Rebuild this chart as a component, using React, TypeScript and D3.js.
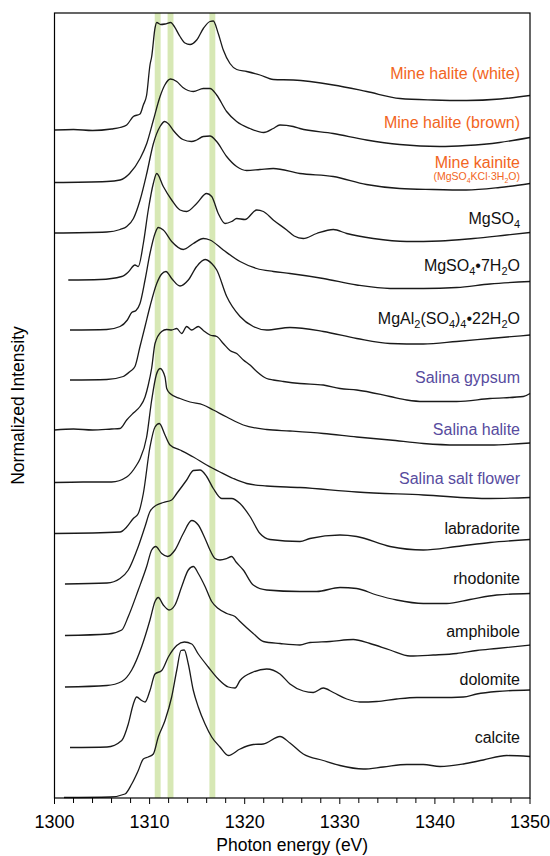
import React from 'react';
import * as d3 from 'd3';

// photon energy window and stacked intensity window (arb. units)
const energyDomain = [1300, 1350];
const intensityDomain = [0, 15.7];

// highlighted Mg K-edge features (eV)
const bandCenters = [1310.85, 1312.2, 1316.6];
const bandWidth = 0.62;

const sampleLabels = [
    'Mine halite (white)',
    'Mine halite (brown)',
    'Mine kainite',
    'MgSO{4}',
    'MgSO{4}\u20227H{2}O',
    'MgAl{2}(SO{4}){4}\u202222H{2}O',
    'Salina gypsum',
    'Salina halite',
    'Salina salt flower',
    'labradorite',
    'rhodonite',
    'amphibole',
    'dolomite',
    'calcite'
];
const sampleGroups = ['mine', 'mine', 'mine', 'ref', 'ref', 'ref', 'salina', 'salina', 'salina', 'ref', 'ref', 'ref', 'ref', 'ref'];
const kainiteFormula = '(MgSO{4}KCl\u00b73H{2}O)';

// vertical offset of each spectrum and where its label sits
const spectrumOffsets = [13.36, 12.31, 11.30, 10.36, 9.36, 8.36, 7.36, 6.31, 5.29, 4.28, 3.25, 2.22, 1.01, 0.01];
const labelLevels = [14.38, 13.40, 12.60, 11.48, 10.54, 9.48, 8.30, 7.26, 6.28, 5.28, 4.28, 3.22, 2.26, 1.10];
const formulaLevel = 12.36;

const mineHaliteWhite = [
    [1300, 0], [1302, 0.01], [1304, -0.01], [1306, 0.02], [1306.89, 0.05], [1307.59, 0.10], [1308.29, 0.27],
    [1308.99, 0.32], [1309.34, 0.50], [1309.69, 0.70], [1310.04, 1.30], [1310.22, 1.47], [1310.57, 2.04],
    [1310.75, 2.15], [1311.17, 2.11], [1311.62, 2.12], [1312.22, 2.15], [1312.49, 2.10], [1313.2, 1.87],
    [1313.72, 1.74], [1314.25, 1.71], [1314.95, 1.80], [1315.65, 2.03], [1316.35, 2.17], [1316.7, 2.18],
    [1317.22, 1.93], [1317.75, 1.60], [1318.45, 1.33], [1319.16, 1.21], [1320.21, 1.17], [1321.61, 1.10],
    [1323.01, 1.01], [1325.11, 1.00], [1329.32, 0.90], [1332.83, 0.77], [1336.33, 0.63], [1339.83, 0.60],
    [1343.34, 0.59], [1346.85, 0.62], [1350, 0.69]
];
const mineHaliteBrown = [
    [1300, 0], [1305.5, 0.02], [1306.9, 0.05], [1307.9, 0.18], [1309.0, 0.48], [1309.7, 0.78], [1310.4, 1.25],
    [1311.1, 1.72], [1311.6, 1.95], [1312.2, 2.07], [1312.85, 2.02], [1313.5, 1.90], [1314.6, 1.82],
    [1315.65, 1.88], [1316.35, 1.88], [1317.05, 1.75], [1318.1, 1.42], [1319.15, 1.22], [1320.55, 1.08],
    [1322.0, 1.00], [1323.0, 1.08], [1323.7, 1.15], [1325.1, 1.12], [1325.8, 1.08], [1329.3, 0.98],
    [1332.8, 0.85], [1336.3, 0.76], [1340.5, 0.72], [1343.3, 0.74], [1346.8, 0.80], [1350, 0.90]
];
const mineKainite = [
    [1300, 0], [1305.5, 0.02], [1306.9, 0.07], [1307.6, 0.13], [1308.3, 0.29], [1309, 0.66], [1309.7, 1.19],
    [1310.4, 1.79], [1311.1, 2.13], [1311.6, 2.23], [1312, 2.18], [1312.5, 2.05], [1313.5, 1.87], [1314.4, 1.83],
    [1314.95, 1.86], [1315.65, 1.93], [1316.35, 1.94], [1317.05, 1.83], [1318.1, 1.53], [1319.15, 1.33],
    [1320.2, 1.25], [1321.6, 1.27], [1323, 1.29], [1325.8, 1.19], [1329.3, 1.13], [1332.8, 0.97],
    [1336.3, 0.89], [1339.8, 0.87], [1343.3, 0.86], [1346.8, 0.91], [1350, 0.99]
];
const mgso4 = [
    [1301.45, 0], [1304.78, 0.01], [1307.07, 0.07], [1307.76, 0.16], [1308.46, 0.30], [1308.81, 0.27],
    [1309.34, 0.73], [1309.86, 1.40], [1310.39, 1.93], [1310.75, 2.13], [1311.44, 1.87], [1312.32, 1.60],
    [1313.2, 1.40], [1313.9, 1.37], [1314.95, 1.53], [1316.0, 1.73], [1316.53, 1.67], [1317.22, 1.33],
    [1317.93, 1.13], [1318.63, 1.17], [1319.16, 1.23], [1320.03, 1.21], [1321.26, 1.40], [1321.96, 1.37],
    [1323.0, 1.20], [1324.42, 1.00], [1325.2, 0.88], [1326.16, 0.83], [1327.57, 0.93], [1329.32, 1.01],
    [1330.73, 0.93], [1333.52, 0.83], [1337.04, 0.77], [1340.54, 0.78], [1344.04, 0.83], [1347.55, 0.90],
    [1350, 0.95]
];
const mgso4Hepta = [
    [1301.63, 0], [1305.49, 0.01], [1306.89, 0.07], [1307.66, 0.20], [1308.12, 0.35], [1308.57, 0.39],
    [1308.99, 0.53], [1309.52, 1.00], [1310.04, 1.53], [1310.57, 1.93], [1310.91, 2.05], [1311.44, 2.00],
    [1312.32, 1.77], [1313.54, 1.61], [1314.6, 1.73], [1315.65, 1.83], [1316.35, 1.80], [1317.75, 1.60],
    [1319.51, 1.37], [1321.26, 1.23], [1323.01, 1.17], [1324.76, 1.13], [1328.26, 1.03], [1331.78, 0.90],
    [1335.28, 0.83], [1338.78, 0.83], [1342.29, 0.85], [1345.79, 0.92], [1350, 0.97]
];
const mgAlSulfate = [
    [1301.63, 0], [1305.49, 0.01], [1307.23, 0.07], [1307.94, 0.17], [1308.46, 0.27], [1308.99, 0.67],
    [1309.52, 1.07], [1310.04, 1.47], [1310.75, 1.93], [1311.27, 2.12], [1311.72, 2.17], [1312.32, 2.03],
    [1313.2, 1.88], [1314.07, 2.00], [1314.95, 2.27], [1315.83, 2.41], [1316.53, 2.33], [1317.06, 2.20],
    [1318.11, 1.67], [1319.51, 1.27], [1320.9, 1.07], [1322.31, 1.00], [1324.76, 1.05], [1328.26, 0.97],
    [1331.78, 0.83], [1335.28, 0.73], [1338.78, 0.72], [1342.29, 0.77], [1345.79, 0.83], [1350, 0.90]
];
const salinaGypsum = [
    [1300, 0], [1302, 0.02], [1304, 0.00], [1306, 0.02], [1306.89, 0.03], [1307.59, 0.20], [1308.29, 0.34],
    [1308.99, 0.47], [1309.52, 0.66], [1309.86, 0.90], [1310.22, 1.24], [1310.57, 1.73], [1311.27, 1.97],
    [1311.79, 2.01], [1312.32, 2.00], [1312.85, 2.03], [1313.37, 1.93], [1313.9, 2.07], [1314.42, 2.00],
    [1315.12, 2.07], [1315.65, 1.99], [1316.35, 1.90], [1317.06, 1.87], [1317.75, 1.73], [1318.45, 1.59],
    [1319.16, 1.53], [1319.86, 1.40], [1320.56, 1.30], [1321.26, 1.17], [1322.31, 1.03], [1323.01, 1.00],
    [1324.06, 0.97], [1325.81, 0.93], [1328.26, 0.90], [1330.02, 0.83], [1331.78, 0.80], [1335.28, 0.67],
    [1337.04, 0.60], [1338.78, 0.57], [1342.29, 0.57], [1345.79, 0.63], [1349.3, 0.67], [1350, 0.73]
];
const salinaHalite = [
    [1300, 0], [1303, 0.01], [1306, 0.01], [1307.59, 0.11], [1308.64, 0.35], [1308.99, 0.47], [1309.69, 0.91],
    [1310.22, 1.65], [1310.7, 2.15], [1311.1, 2.28], [1311.62, 2.11], [1311.8, 1.88], [1312.15, 1.78],
    [1313.2, 1.68], [1314.25, 1.61], [1315.65, 1.55], [1316.7, 1.45], [1318.11, 1.31], [1319.85, 1.15],
    [1322.31, 1.06], [1324.76, 1.03], [1328.26, 0.98], [1331.78, 0.91], [1335.28, 0.85], [1338.78, 0.78],
    [1342.29, 0.75], [1345.79, 0.75], [1350, 0.79]
];
const salinaSaltFlower = [
    [1300, 0], [1306.89, 0.03], [1307.59, 0.13], [1308.29, 0.30], [1308.81, 0.40], [1309.34, 0.80],
    [1310.04, 1.73], [1310.57, 2.13], [1311.02, 2.20], [1311.62, 1.97], [1312.15, 1.77], [1313.2, 1.67],
    [1314.6, 1.53], [1316.0, 1.37], [1317.4, 1.23], [1318.8, 1.10], [1320.21, 1.00], [1322.31, 0.95],
    [1325.81, 0.92], [1331.78, 0.83], [1338.78, 0.77], [1345.79, 0.70], [1350, 0.72]
];
const labradorite = [
    [1301.1, 0], [1305.52, 0.02], [1306.89, 0.11], [1307.76, 0.28], [1308.81, 0.75], [1309.52, 1.15],
    [1310.04, 1.45], [1310.75, 1.58], [1311.44, 1.63], [1312.32, 1.68], [1312.85, 1.81], [1313.9, 2.08],
    [1314.6, 2.27], [1315.3, 2.28], [1316.0, 2.15], [1316.7, 1.91], [1317.58, 1.71], [1318.63, 1.71],
    [1319.51, 1.61], [1320.56, 1.35], [1321.61, 1.01], [1322.66, 0.89], [1325.81, 0.85], [1326.86, 0.91],
    [1330.02, 0.98], [1331.78, 0.95], [1335.28, 0.75], [1338.78, 0.68], [1342.29, 0.75], [1345.79, 0.83],
    [1350, 0.89]
];
const rhodonite = [
    [1301.1, 0], [1305.66, 0.03], [1307.07, 0.11], [1307.76, 0.38], [1308.81, 0.91], [1309.69, 1.38],
    [1310.22, 1.71], [1310.64, 1.78], [1311.27, 1.64], [1311.9, 1.58], [1312.67, 1.71], [1313.54, 2.04],
    [1314.43, 2.30], [1315.12, 2.21], [1315.83, 1.94], [1316.35, 1.71], [1316.88, 1.54], [1317.4, 1.51],
    [1318.11, 1.54], [1318.63, 1.58], [1319.09, 1.47], [1319.85, 1.31], [1320.9, 1.01], [1322.31, 0.91],
    [1325.81, 0.88], [1327.57, 0.88], [1330.02, 0.96], [1331.78, 0.94], [1333.88, 0.81], [1335.98, 0.71],
    [1338.78, 0.64], [1341.24, 0.64], [1343.69, 0.72], [1346.5, 0.81], [1350, 0.84]
];
const amphibole = [
    [1301.1, 0], [1305.5, 0.03], [1307.07, 0.11], [1308.12, 0.34], [1309.17, 0.81], [1310.04, 1.34],
    [1310.57, 1.71], [1310.91, 1.79], [1311.44, 1.64], [1312.04, 1.54], [1312.67, 1.64], [1313.38, 2.01],
    [1314.07, 2.34], [1314.6, 2.41], [1315.12, 2.27], [1315.83, 2.01], [1316.53, 1.71], [1317.22, 1.57],
    [1318.11, 1.47], [1318.98, 1.41], [1319.51, 1.31], [1320.9, 1.07], [1321.96, 0.91], [1323.71, 0.87],
    [1325.81, 0.84], [1326.87, 0.89], [1328.97, 0.91], [1331.42, 0.95], [1333.18, 0.87], [1335.28, 0.74],
    [1337.38, 0.62], [1339.83, 0.64], [1342.29, 0.67], [1344.4, 0.73], [1346.5, 0.77], [1350, 0.84]
];
const dolomite = [
    [1301.63, 0], [1305.52, 0.01], [1307.07, 0.14], [1307.76, 0.47], [1308.29, 0.87], [1308.64, 1.01],
    [1309.17, 0.94], [1309.52, 0.91], [1310.04, 1.14], [1310.57, 1.47], [1311.27, 1.54], [1311.97, 1.81],
    [1312.85, 2.04], [1313.65, 2.11], [1314.43, 2.07], [1315.12, 1.87], [1316.17, 1.61], [1317.22, 1.37],
    [1318.28, 1.21], [1318.98, 1.19], [1319.51, 1.34], [1320.9, 1.51], [1322.31, 1.57], [1323.71, 1.47],
    [1324.76, 1.27], [1326.16, 1.13], [1327.21, 1.10], [1328.26, 1.19], [1329.32, 1.10], [1330.73, 0.97],
    [1332.12, 0.91], [1333.88, 0.92], [1335.98, 0.97], [1338.09, 1.00], [1340.54, 1.00], [1342.99, 1.01],
    [1344.4, 1.07], [1346.5, 1.12], [1350, 1.15]
];
const calcite = [
    [1301, 0], [1305.84, 0.01], [1307.41, 0.07], [1308.12, 0.27], [1308.81, 0.54], [1309.34, 0.77],
    [1309.86, 0.81], [1310.39, 0.87], [1310.91, 1.21], [1311.62, 1.54], [1312.32, 2.01], [1312.85, 2.54],
    [1313.3, 2.94], [1313.65, 2.95], [1314.07, 2.67], [1314.6, 2.14], [1315.12, 1.81], [1315.83, 1.47],
    [1316.53, 1.21], [1317.4, 1.01], [1318.28, 0.84], [1319.51, 0.97], [1320.9, 1.06], [1321.96, 1.07],
    [1323.71, 1.22], [1324.76, 1.09], [1326.16, 0.87], [1328.26, 0.74], [1330.02, 0.64], [1332.47, 0.57],
    [1334.57, 0.61], [1337.04, 0.66], [1338.78, 0.66], [1340.54, 0.62], [1342.99, 0.67], [1345.09, 0.75],
    [1347.55, 0.84], [1350, 0.82]
];

const spectra = [
    mineHaliteWhite, mineHaliteBrown, mineKainite, mgso4, mgso4Hepta, mgAlSulfate,
    salinaGypsum, salinaHalite, salinaSaltFlower, labradorite, rhodonite, amphibole, dolomite, calcite
];

const groupColor = {mine: '#f26522', salina: '#574b9e', ref: '#111'};

// "MgSO{4}" -> pieces with subscript flags
const splitFormula = (label) =>
    label.split(/(\{[^}]*\})/).filter(s => s.length).map(s =>
        s[0] === '{' ? {t: s.slice(1, -1), sub: true} : {t: s, sub: false});

const Formula = ({label, x, y, size, color}) => {
    const subSize = Math.round(size * 0.68);
    const shift = size * 0.28;
    const parts = splitFormula(label);
    let down = 0;
    return (
        <text x={x} y={y} textAnchor="end" fill={color}
              style={{fontFamily: '"Liberation Sans", Arial, sans-serif', fontSize: size + 'px'}}>
            {parts.map((p, i) => {
                const dy = p.sub ? shift - down : -down;
                down = p.sub ? shift : 0;
                return <tspan key={i} dy={dy} style={{fontSize: (p.sub ? subSize : size) + 'px'}}>{p.t}</tspan>;
            })}
        </text>
    );
};

const App = () => {
    const width = 550;
    const height = 856;
    const left = 54.5, right = 530, top = 13, bottom = 798;

    const x = d3.scaleLinear().domain(energyDomain).range([left, right]);
    const y = d3.scaleLinear().domain(intensityDomain).range([bottom, top]);

    const ticks = d3.range(energyDomain[0], energyDomain[1] + 0.1, 2);
    const axisFont = {fontFamily: '"Liberation Sans", Arial, sans-serif', fontSize: '18px'};

    return (
        <div style={{position: 'absolute', left: 0, top: 0}}>
            <svg width={width} height={height} style={{display: 'block', background: '#fff'}}>
                <rect x={0} y={0} width={width} height={height} fill="#fff"/>
                {bandCenters.map((c, i) => (
                    <rect key={i} x={x(c - bandWidth / 2)} y={top}
                          width={x(c + bandWidth / 2) - x(c - bandWidth / 2)} height={bottom - top}
                          fill="#d7e8b5"/>
                ))}
                {spectra.map((s, i) => {
                    const line = d3.line()
                        .x(d => x(d[0]))
                        .y(d => y(spectrumOffsets[i] + d[1]))
                        .curve(d3.curveMonotoneX);
                    return <path key={i} d={line(s)} fill="none" stroke="#1a1a1a" strokeWidth={1.3}/>;
                })}
                {sampleLabels.map((lab, i) => (
                    <Formula key={i} label={lab} x={520} y={y(labelLevels[i])} size={16}
                             color={groupColor[sampleGroups[i]]}/>
                ))}
                <Formula label={kainiteFormula} x={520} y={y(formulaLevel)} size={10.5} color={groupColor.mine}/>

                <rect x={left} y={top} width={right - left} height={bottom - top}
                      fill="none" stroke="#000" strokeWidth={1.2}/>
                {ticks.map(t => (
                    <line key={t} x1={x(t)} x2={x(t)} y1={bottom} y2={bottom + (t % 10 === 0 ? 6 : 5)}
                          stroke="#000" strokeWidth={1}/>
                ))}
                {ticks.filter(t => t % 10 === 0).map(t => (
                    <text key={t} x={x(t)} y={828} textAnchor="middle" style={axisFont}>{t}</text>
                ))}
                <text x={(left + right) / 2} y={851} textAnchor="middle"
                      style={{...axisFont, fontSize: '17.5px'}}>Photon energy (eV)</text>
                <text transform={`translate(24,${(top + bottom) / 2}) rotate(-90)`} textAnchor="middle"
                      style={{...axisFont, fontSize: '17.5px'}}>Normalized Intensity</text>
            </svg>
        </div>
    );
};

export default App;
